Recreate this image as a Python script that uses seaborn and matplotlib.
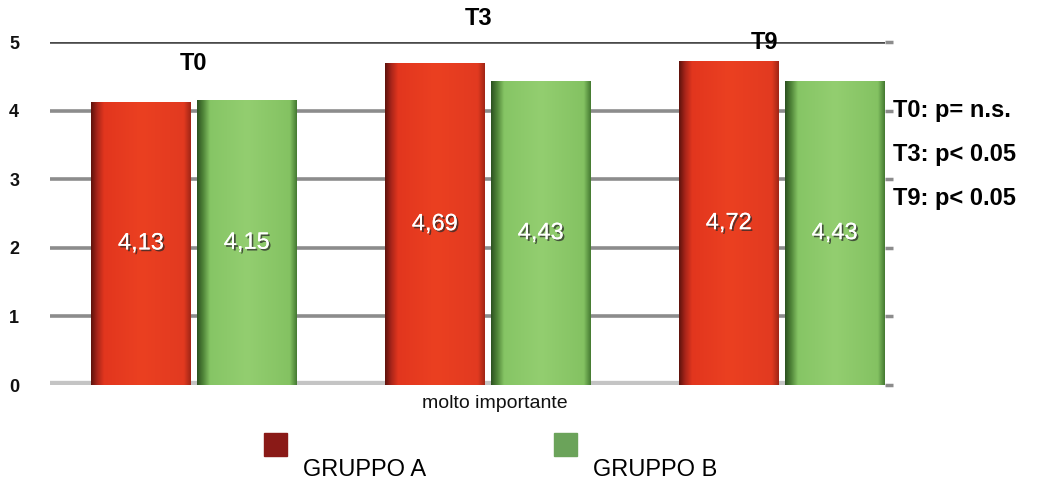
import numpy as np
import pandas as pd
import matplotlib
matplotlib.use("Agg")
import matplotlib.pyplot as plt
import matplotlib.patheffects as pe
from matplotlib.colors import LinearSegmentedColormap
from matplotlib.patches import Rectangle
import seaborn as sns

# --- data -------------------------------------------------------------
tempi = ["T0", "T3", "T9"]
gruppi = ["GRUPPO A", "GRUPPO B"]
valori_a = [4.13, 4.69, 4.72]
valori_b = [4.15, 4.43, 4.43]
etichette_a = ["4,13", "4,69", "4,72"]
etichette_b = ["4,15", "4,43", "4,43"]
y_ticks = [0, 1, 2, 3, 4, 5]
note_p = ["T0: p= n.s.", "T3: p< 0.05", "T9: p< 0.05"]
asse_x = "molto importante"

df = pd.DataFrame({
    "tempo": tempi * 2,
    "gruppo": [gruppi[0]] * 3 + [gruppi[1]] * 3,
    "valore": valori_a + valori_b,
})

# --- style ------------------------------------------------------------
sns.set_theme(style="white")
plt.rcParams["font.family"] = ["Liberation Sans", "DejaVu Sans"]

ROSSO = "#E8391F"
VERDE = "#8CC96A"
fig = plt.figure(figsize=(10.37, 4.84), dpi=100)
ax = fig.add_axes([0.048, 0.2045, 0.805, 0.7085])

# grid lines behind the bars
for v in y_ticks[1:-1]:
    ax.axhline(v, color="#8c8c8c", lw=2.6, zorder=0)
ax.axhline(5, color="#4a4a4a", lw=2.6, zorder=0)
ax.axhline(0, color="#c4c4c4", lw=6, zorder=0)

sns.barplot(data=df, x="tempo", y="valore", hue="gruppo",
            palette=[ROSSO, VERDE], width=0.72, gap=0.06,
            ax=ax, legend=False, zorder=2, linewidth=0)

# shaded faces: narrow dark left edge, flat face, slightly darker right rim
cm_rosso = LinearSegmentedColormap.from_list(
    "r", [(0.0, "#5e120c"), (0.06, "#a8251a"), (0.13, "#E2361E"),
          (0.5, "#EB4021"), (0.93, "#E23A20"), (1.0, "#a02616")])
cm_verde = LinearSegmentedColormap.from_list(
    "g", [(0.0, "#2c5220"), (0.06, "#4f8438"), (0.13, "#86C565"),
          (0.5, "#93CE70"), (0.93, "#84C262"), (1.0, "#457a31")])
grad = np.linspace(0, 1, 256).reshape(1, -1)
for i, bar in enumerate(ax.patches):
    x0, y0 = bar.get_x(), bar.get_y()
    w, h = bar.get_width(), bar.get_height()
    cmap = cm_rosso if i < 3 else cm_verde
    im = ax.imshow(grad, cmap=cmap, aspect="auto",
                   extent=[x0, x0 + w, y0, y0 + h], zorder=3)
    im.set_clip_path(bar)
ax.set_aspect("auto")

# value labels inside the bars
shadow = [pe.withSimplePatchShadow(offset=(1.3, -1.3), shadow_rgbFace="#2a2a2a", alpha=0.75),
          pe.Normal()]
xs_a = [p.get_x() + p.get_width() / 2 for p in ax.patches[:3]]
xs_b = [p.get_x() + p.get_width() / 2 for p in ax.patches[3:6]]
for x, v, lab in zip(xs_a, valori_a, etichette_a):
    ax.text(x, v / 2, lab, color="white", fontsize=17, ha="center", va="center",
            zorder=5, path_effects=shadow)
for x, v, lab in zip(xs_b, valori_b, etichette_b):
    ax.text(x, v / 2, lab, color="white", fontsize=17, ha="center", va="center",
            zorder=5, path_effects=shadow)

# time point titles above each group
titoli_y = [4.69, 5.35, 5.0]
for i, (t, ty) in enumerate(zip(tempi, titoli_y)):
    ax.text(i - 0.03 * i, ty, t, fontsize=17, fontweight="bold", ha="center",
            va="center", clip_on=False, zorder=5, color="black")

ax.set_xlim(-0.49, 2.35)
ax.set_ylim(0, 5)
ax.set_yticks(y_ticks)
ax.set_yticklabels([str(t) for t in y_ticks], fontsize=13, color="#111111",
                   fontweight="bold")
ax.tick_params(axis="y", left=False, pad=16)
# short tick stubs on the right edge
ax.tick_params(axis="y", right=True, length=6, width=2.5, color="#8c8c8c",
               labelright=False)
ax.set_xticks([])
ax.set_xlabel("")
ax.set_ylabel("")
for s in ax.spines.values():
    s.set_visible(False)

# x label under the middle group
fig.text(495 / 1037, 1 - 404 / 484, asse_x, fontsize=14, ha="center",
         va="center", color="#111111")

# significance notes on the right
for k, testo in enumerate(note_p):
    fig.text(893 / 1037, 1 - (111 + 44 * k) / 484, testo, fontsize=17,
             fontweight="bold", ha="left", va="center", color="black")

# legend
for (xq, col, nome, xt) in [(264, "#8A1A17", gruppi[0], 303),
                            (554, "#6BA35A", gruppi[1], 593)]:
    fig.patches.append(Rectangle((xq / 1037, 1 - 456 / 484), 23 / 1037, 23 / 484,
                                 transform=fig.transFigure, color=col))
    fig.text(xt / 1037, 1 - 470 / 484, nome, fontsize=17, ha="left",
             va="center", color="black")

fig.savefig("out.png", dpi=100)
